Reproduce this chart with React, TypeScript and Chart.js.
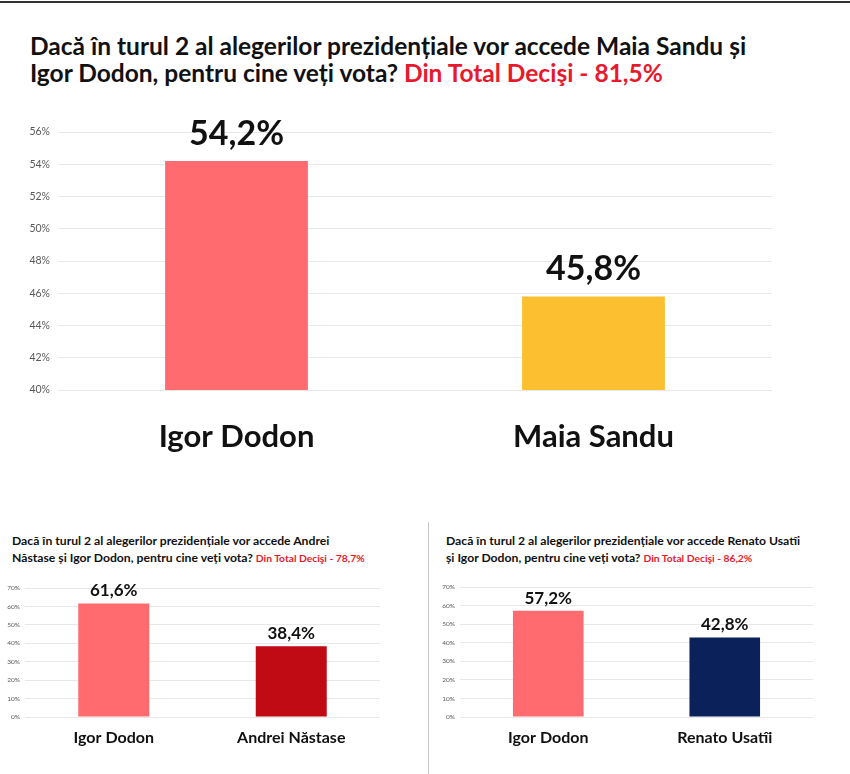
import React, { useRef, useEffect } from 'react';
import { Chart, registerables, Plugin } from 'chart.js';

Chart.register(...registerables);

// Main poll: Dodon vs Sandu
const mainCategories = ['Igor Dodon', 'Maia Sandu'];
const mainValues = [54.2, 45.8];
const mainColors = ['#FF6B6F', '#FBBF2F'];
const mainTicks = { min: 40, max: 56, step: 2 };

// Dodon vs Năstase
const leftCategories = ['Igor Dodon', 'Andrei Năstase'];
const leftValues = [61.6, 38.4];
const leftColors = ['#FF6B6F', '#C00A14'];

// Dodon vs Usatîi
const rightCategories = ['Igor Dodon', 'Renato Usatîi'];
const rightValues = [57.2, 42.8];
const rightColors = ['#FF6B6F', '#0B2159'];

const smallTicks = { min: 0, max: 70, step: 10 };

const FONT = 'Lato, "Open Sans", sans-serif';
const RED = '#E8192C';

const fmt = (v: number) => v.toFixed(1).replace('.', ',') + '%';

// draws the value above each bar
const valueLabels: Plugin<'bar'> = {
  id: 'valueLabels',
  afterDatasetsDraw(chart, _args, opts: any) {
    const ctx = chart.ctx;
    const meta = chart.getDatasetMeta(0);
    const data = chart.data.datasets[0].data as number[];
    ctx.save();
    ctx.font = `bold ${opts.size}px ${FONT}`;
    ctx.fillStyle = '#111';
    ctx.textAlign = 'center';
    ctx.textBaseline = 'bottom';
    meta.data.forEach((bar: any, i) => {
      ctx.fillText(fmt(data[i]), bar.x, bar.y - opts.gap);
    });
    ctx.restore();
  },
};

interface PanelProps {
  categories: string[];
  values: number[];
  colors: string[];
  ticks: { min: number; max: number; step: number };
  left: number;
  top: number;
  width: number;
  height: number;
  axisWidth: number;
  axisHeight: number;
  padTop: number;
  padRight: number;
  tickSize: number;
  tickPad: number;
  catSize: number;
  catPad: number;
  valueSize: number;
  valueGap: number;
}

const BarPanel: React.FC<PanelProps> = (p) => {
  const chartRef = useRef<HTMLCanvasElement | null>(null);
  const chartInstance = useRef<Chart | null>(null);

  useEffect(() => {
    if (!chartRef.current) return;
    if (chartInstance.current) chartInstance.current.destroy();
    const ctx = chartRef.current.getContext('2d');
    if (!ctx) return;

    chartInstance.current = new Chart(ctx, {
      type: 'bar',
      data: {
        labels: p.categories,
        datasets: [
          {
            data: p.values,
            backgroundColor: p.colors,
            borderWidth: 0,
            barPercentage: 0.4,
            categoryPercentage: 1,
          },
        ],
      },
      options: {
        responsive: true,
        maintainAspectRatio: false,
        animation: false,
        layout: { padding: { top: p.padTop, right: p.padRight, left: 0, bottom: 0 } },
        plugins: {
          legend: { display: false },
          tooltip: { enabled: false },
          valueLabels: { size: p.valueSize, gap: p.valueGap },
        } as any,
        scales: {
          x: {
            grid: { display: false },
            border: { display: false },
            ticks: {
              color: '#111',
              padding: p.catPad,
              font: { family: FONT, size: p.catSize, weight: 'bold' },
            },
            afterFit: (scale: any) => {
              scale.height = p.axisHeight;
            },
          },
          y: {
            min: p.ticks.min,
            max: p.ticks.max,
            grid: { color: '#E8E8E8', drawTicks: false },
            border: { display: false },
            ticks: {
              stepSize: p.ticks.step,
              color: '#595959',
              padding: p.tickPad,
              font: { family: FONT, size: p.tickSize },
              callback: (v) => `${v}%`,
            },
            afterFit: (scale: any) => {
              scale.width = p.axisWidth;
            },
          },
        },
      },
      plugins: [valueLabels],
    });

    return () => {
      if (chartInstance.current) {
        chartInstance.current.destroy();
        chartInstance.current = null;
      }
    };
  }, []);

  return (
    <div style={{ position: 'absolute', left: p.left, top: p.top, width: p.width, height: p.height }}>
      <canvas ref={chartRef}></canvas>
    </div>
  );
};

const App: React.FC = () => {
  useEffect(() => {
    document.body.style.margin = '0';
    document.body.style.background = '#fff';
  }, []);

  return (
    <div style={{ position: 'relative', width: 850, height: 774, background: '#fff', overflow: 'hidden', fontFamily: FONT }}>
      <div style={{ position: 'absolute', left: 0, top: 1, width: 850, height: 2, background: '#333' }} />

      <div
        style={{
          position: 'absolute', left: 30, top: 32, fontSize: 24.5, lineHeight: '27px',
          fontWeight: 700, color: '#111', whiteSpace: 'nowrap',
        }}
      >
        Dacă în turul 2 al alegerilor prezidențiale vor accede Maia Sandu și
        <br />
        Igor Dodon, pentru cine veți vota? <span style={{ color: RED }}>Din Total Decişi - 81,5%</span>
      </div>

      <BarPanel
        categories={mainCategories} values={mainValues} colors={mainColors} ticks={mainTicks}
        left={0} top={100} width={850} height={380}
        axisWidth={58} axisHeight={90} padTop={32} padRight={78}
        tickSize={10.5} tickPad={8} catSize={31} catPad={20} valueSize={34} valueGap={10}
      />

      <div style={{ position: 'absolute', left: 428, top: 522, width: 1, height: 252, background: '#C8C8C8' }} />

      <div
        style={{
          position: 'absolute', left: 12, top: 532, fontSize: 12.2, lineHeight: '17px',
          fontWeight: 700, color: '#111', whiteSpace: 'nowrap',
        }}
      >
        Dacă în turul 2 al alegerilor prezidențiale vor accede Andrei
        <br />
        Năstase și Igor Dodon, pentru cine veți vota?{' '}
        <span style={{ color: RED, fontSize: 10.3 }}>Din Total Decişi - 78,7%</span>
      </div>

      <div
        style={{
          position: 'absolute', left: 446, top: 532, fontSize: 12.2, lineHeight: '17px',
          fontWeight: 700, color: '#111', whiteSpace: 'nowrap',
        }}
      >
        Dacă în turul 2 al alegerilor prezidențiale vor accede Renato Usatîi
        <br />
        și Igor Dodon, pentru cine veți vota?{' '}
        <span style={{ color: RED, fontSize: 10.3 }}>Din Total Decişi - 86,2%</span>
      </div>

      <BarPanel
        categories={leftCategories} values={leftValues} colors={leftColors} ticks={smallTicks}
        left={0} top={570} width={425} height={190}
        axisWidth={25} axisHeight={43} padTop={18} padRight={45}
        tickSize={6.5} tickPad={5} catSize={16} catPad={3} valueSize={17} valueGap={4}
      />

      <BarPanel
        categories={rightCategories} values={rightValues} colors={rightColors} ticks={smallTicks}
        left={430} top={570} width={420} height={190}
        axisWidth={30} axisHeight={43} padTop={17} padRight={37}
        tickSize={6.5} tickPad={5} catSize={16} catPad={3} valueSize={17} valueGap={4}
      />
    </div>
  );
};

export default App;
